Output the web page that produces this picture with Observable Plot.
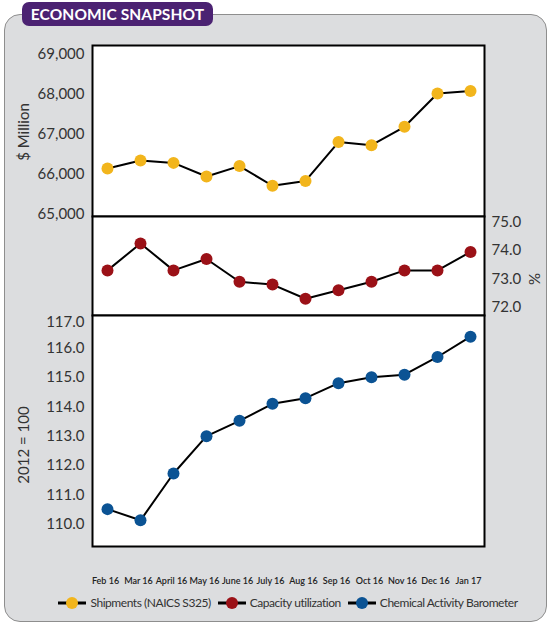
<!DOCTYPE html>
<html><head><meta charset="utf-8">
<script src="https://cdn.jsdelivr.net/npm/d3@7"></script>
<script src="https://cdn.jsdelivr.net/npm/@observablehq/plot@0.6"></script>
<style>
body{margin:0;background:#fff;font-family:Lato,"Open Sans",sans-serif;}
#root{position:relative;width:550px;height:625px;overflow:hidden;background:#fff;}
#panel{position:absolute;left:4px;top:14px;width:543px;height:608px;background:#dcdddf;border:1.5px solid #8e8e8e;border-radius:16px;box-sizing:border-box;}
#tab{position:absolute;left:22px;top:2px;width:191px;height:24px;background:#4b2272;border-radius:7px;color:#fff;font-weight:bold;font-size:15.5px;line-height:24px;text-align:center;letter-spacing:0.1px;}
.p{position:absolute;left:0;}
.atitle{position:absolute;font-size:15px;color:#333;white-space:nowrap;transform:translate(-50%,-50%) rotate(-90deg);}
#legend{position:absolute;left:0;width:576px;top:595px;display:flex;justify-content:center;align-items:center;font-size:12px;letter-spacing:-0.45px;color:#333;white-space:nowrap;}
#legend .it{display:flex;align-items:center;margin:0 3.5px;}
#legend svg{margin-right:4px;}
</style></head>
<body><div id="root">
<div id="panel"></div>
<div id="tab">ECONOMIC SNAPSHOT</div>
<div id="topPlot" class="p" style="top:0"></div>
<div id="midPlot" class="p" style="top:216px"></div>
<div id="botPlot" class="p" style="top:315px"></div>
<div class="atitle" style="left:23px;top:132px">$ Million</div>
<div class="atitle" style="left:23px;top:445px">2012 = 100</div>
<div class="atitle" style="left:535px;top:279px;transform:translate(-50%,-50%) rotate(90deg)">%</div>
<div id="legend"></div>
</div>
<script>
const months = ["Feb 16","Mar 16","April 16","May 16","June 16","July 16","Aug 16","Sep 16","Oct 16","Nov 16","Dec 16","Jan 17"];
const shipments = [66140,66340,66280,65940,66200,65710,65830,66800,66720,67180,68010,68070];
const capacity = [73.3,74.25,73.3,73.7,72.9,72.8,72.3,72.6,72.9,73.3,73.3,73.95];
const cab = [110.52,110.14,111.73,113.0,113.52,114.10,114.29,114.80,115.00,115.09,115.69,116.38];
const shipTicks = [65000,66000,67000,68000,69000];
const capTicks = [72,73,74,75];
const cabTicks = [110,111,112,113,114,115,116];
const cabTopTick = [117];
const seriesNames = ["Shipments (NAICS S325)","Capacity utilization","Chemical Activity Barometer"];
const seriesColors = ["#f2b51c","#9b1117","#0b5394"];

(function(){
const W = 550, ML = 92, MR = 66;
const common = {
  width: W, marginLeft: ML, marginRight: MR,
  style: {overflow: "visible", background: "transparent", fontFamily: "Lato, 'Open Sans', sans-serif", fontSize: "15px", color: "#333"}
};
const xScale = {type: "point", domain: months, padding: 0.31, axis: null};

function rows(vals){ return months.map((m,i)=>({m, v: vals[i]})); }

function seriesMarks(vals, color){
  const d = rows(vals);
  return [
    Plot.frame({fill: "white", stroke: null}),
    Plot.line(d, {x: "m", y: "v", stroke: "black", strokeWidth: 2}),
    Plot.dot(d, {x: "m", y: "v", r: 6, fill: color, stroke: null}),
    Plot.frame({stroke: "black", strokeWidth: 2})
  ];
}

const p1 = Plot.plot({
  ...common, height: 216, marginTop: 45, marginBottom: 0,
  x: xScale,
  y: {domain: [64943, 69207], axis: null},
  marks: [
    ...seriesMarks(shipments, seriesColors[0]),
    Plot.axisY({ticks: shipTicks, tickFormat: d3.format(","), tickSize: 0, tickPadding: 8, label: null, fontSize: 15})
  ]
});
document.getElementById("topPlot").appendChild(p1);

const p2 = Plot.plot({
  ...common, height: 99, marginTop: 0, marginBottom: 0,
  x: xScale,
  y: {domain: [71.71, 75.2], axis: null},
  marks: [
    ...seriesMarks(capacity, seriesColors[1]),
    Plot.axisY({anchor: "right", ticks: capTicks, tickFormat: d3.format(".1f"), tickSize: 0, tickPadding: 7, label: null, fontSize: 15})
  ]
});
document.getElementById("midPlot").appendChild(p2);

const p3 = Plot.plot({
  ...common, height: 281, marginTop: 0, marginBottom: 50,
  x: xScale,
  y: {domain: [109.25, 117.1], axis: null},
  marks: [
    ...seriesMarks(cab, seriesColors[2]),
    Plot.axisY({ticks: cabTicks, tickFormat: d3.format(".1f"), tickSize: 0, tickPadding: 8, label: null, fontSize: 15}),
    Plot.axisY({ticks: cabTopTick, tickFormat: d3.format(".1f"), tickSize: 0, tickPadding: 8, label: null, fontSize: 15, dy: 4}),
    Plot.axisX({ticks: months, tickSize: 0, tickPadding: 31, label: null, fontSize: 9, fontWeight: 600, dx: -2, fill: "#222"})
  ]
});
document.getElementById("botPlot").appendChild(p3);

const legend = document.getElementById("legend");
seriesNames.forEach((name, i) => {
  const it = document.createElement("div");
  it.className = "it";
  it.innerHTML = `<svg width="28" height="14"><line x1="0" x2="28" y1="7" y2="7" stroke="black" stroke-width="3"/><circle cx="14" cy="7" r="6" fill="${seriesColors[i]}"/></svg><span>${name}</span>`;
  legend.appendChild(it);
});
})();
</script>
</body></html>
